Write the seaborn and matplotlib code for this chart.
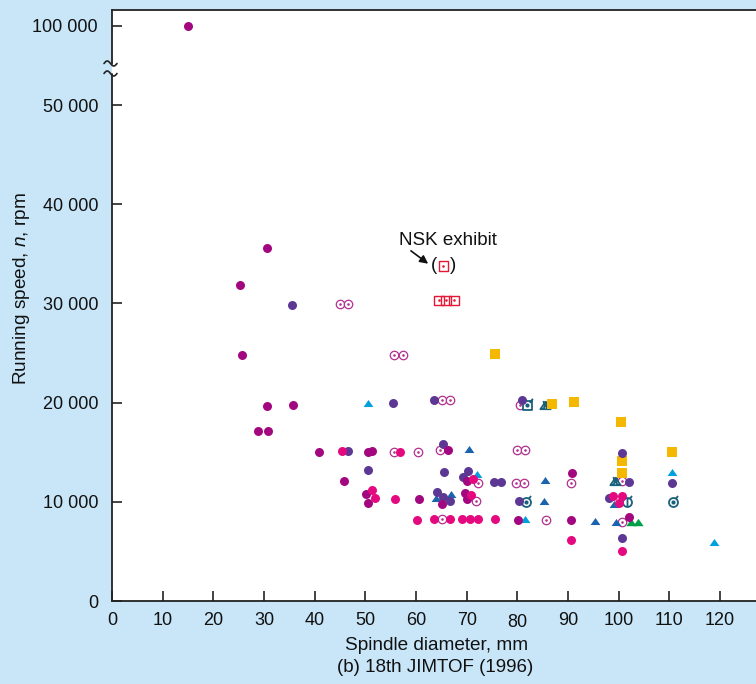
import numpy as np
import matplotlib
matplotlib.use("Agg")
import matplotlib.pyplot as plt
from matplotlib.path import Path
import seaborn as sns

# ---- data: spindle diameter (mm) vs running speed (rpm) ----
dm_x = [15.0, 30.6, 25.3, 25.6, 30.6, 35.7, 28.9, 30.7, 40.9, 50.6, 51.4, 45.8,
        50.1, 50.5, 60.6, 66.4, 65.2, 69.7, 70.1, 70.1, 90.8, 80.2, 90.6, 102.0]
dm_y = [100000, 35600, 31900, 24800, 19700, 19800, 17100, 17100, 15000, 15000, 15100, 12100,
        10800, 9900, 10300, 15200, 9800, 10900, 10300, 12100, 12900, 8200, 8200, 8500]

pu_x = [35.5, 46.5, 50.6, 55.4, 63.5, 65.4, 81.0, 100.6, 65.5, 70.3, 69.2, 75.4, 76.8,
        102.1, 110.6, 64.2, 65.3, 66.7, 80.3, 98.1, 100.6]
pu_y = [29800, 15100, 13200, 20000, 20300, 15800, 20300, 14900, 13000, 13100, 12500, 12000, 12000,
        12000, 11900, 11000, 10500, 10100, 10100, 10400, 6400]

pk_x = [45.3, 56.8, 51.4, 51.9, 55.9, 60.2, 71.2, 70.9, 98.9, 100.6, 100.1, 63.5, 66.7,
        69.0, 70.7, 72.2, 75.6, 90.6, 100.6]
pk_y = [15100, 15000, 11200, 10400, 10300, 8200, 12300, 10700, 10600, 10600, 9900, 8300, 8300,
        8300, 8300, 8300, 8300, 6100, 5000]

od_x = [45.0, 46.6, 55.7, 57.4, 65.1, 66.8, 80.5, 55.7, 60.3, 64.8, 79.9, 81.5, 72.2,
        79.8, 81.4, 90.6, 100.6, 71.9, 65.2, 85.7, 100.6]
od_y = [29900, 29900, 24800, 24800, 20300, 20300, 19800, 15000, 15000, 15200, 15200, 15200, 11900,
        11900, 11900, 11900, 12100, 10100, 8300, 8200, 8000]

ye_x = [75.6, 86.8, 91.2, 100.5, 110.5, 100.6, 100.6]
ye_y = [24900, 19900, 20100, 18000, 15000, 14100, 12900]

cy_x = [50.6, 72.1, 110.6, 81.6, 118.9]
cy_y = [20000, 12800, 13000, 8300, 5900]

db_x = [70.5, 85.5, 63.9, 66.9, 85.3, 99.1, 95.3, 99.4]
db_y = [15300, 12200, 10400, 10800, 10100, 9800, 8100, 8000]

gr_x = [102.4, 103.8]
gr_y = [8000, 8000]

tq_x, tq_y = [82.0], [19800]                    # square with dot
tt_x, tt_y = [85.5, 99.3], [19800, 12100]       # crossed triangle
tc_x, tc_y = [81.7, 110.8], [10000, 10000]      # circle with dot
tb_x, tb_y = [101.7], [10000]                   # circle with bar

nsk_x = [64.5, 65.9, 67.5]
nsk_y = [30300, 30300, 30300]

x_ticks = [0, 10, 20, 30, 40, 50, 60, 70, 80, 90, 100, 110, 120]
y_ticks = [0, 10000, 20000, 30000, 40000, 50000, 100000]
y_labels = ["0", "10 000", "20 000", "30 000", "40 000", "50 000", "100 000"]

# ---- colours ----
BG = "#c8e6f8"
C_DM = "#a3077f"
C_PU = "#5c3793"
C_PK = "#e5097f"
C_OD = "#b2308f"
C_YE = "#f5b800"
C_CY = "#00a0df"
C_DB = "#1c63ae"
C_GR = "#00a04a"
C_TL = "#19607c"
C_RD = "#e21836"
INK = "#111111"

sns.set_theme(style="ticks")
plt.rcParams["font.family"] = ["Liberation Sans", "DejaVu Sans"]
plt.rcParams["mathtext.fontset"] = "custom"
plt.rcParams["mathtext.it"] = "Liberation Sans:italic"
plt.rcParams["mathtext.rm"] = "Liberation Sans"

fig = plt.figure(figsize=(7.56, 6.84), dpi=100, facecolor=BG)
ax = fig.add_axes([112 / 756, 1 - 601 / 684, 1 - 112 / 756, (601 - 10) / 684])
ax.set_facecolor("white")

# broken y axis: values above 50 000 are compressed
K = 0.1593


def fwd(y):
    y = np.asarray(y, dtype=float)
    return np.where(y <= 50000, y, 50000 + (y - 50000) * K)


def inv(t):
    t = np.asarray(t, dtype=float)
    return np.where(t <= 50000, t, 50000 + (t - 50000) / K)


ax.set_yscale("function", functions=(fwd, inv))
ax.set_xlim(0, 644 / 5.067)
ax.set_ylim(0, float(inv(59577)))

# ---- marker shapes ----
tri = Path([(-1, -0.72), (1, -0.72), (0, 0.72), (-1, -0.72)],
           [Path.MOVETO, Path.LINETO, Path.LINETO, Path.CLOSEPOLY])

circ = Path.unit_circle()
slash_c = Path([(0.55, 0.85), (1.0, 1.45)], [Path.MOVETO, Path.LINETO])
m_tc = Path.make_compound_path(circ, slash_c)
m_tb = Path.make_compound_path(circ, slash_c,
                               Path([(0, -1), (0, 1)], [Path.MOVETO, Path.LINETO]))
sq = Path([(-1, -1), (1, -1), (1, 1), (-1, 1), (-1, -1)],
          [Path.MOVETO, Path.LINETO, Path.LINETO, Path.LINETO, Path.CLOSEPOLY])
m_tq = Path.make_compound_path(sq, Path([(0.5, 0.6), (1.2, 1.5)], [Path.MOVETO, Path.LINETO]))
m_tt = Path.make_compound_path(
    tri,
    Path([(-0.45, 0.85), (0.45, -0.72)], [Path.MOVETO, Path.LINETO]),
    Path([(-0.45, -0.72), (0.45, 0.85)], [Path.MOVETO, Path.LINETO]),
)

# open dotted circles
sns.scatterplot(x=od_x, y=od_y, marker="o", s=37, color=C_OD, facecolor="white",
                edgecolor=C_OD, linewidth=0.9, ax=ax, zorder=3)
sns.scatterplot(x=od_x, y=od_y, marker="o", s=3.5, color=C_OD, linewidth=0, ax=ax, zorder=3.1)

# NSK exhibit squares
sns.scatterplot(x=nsk_x, y=nsk_y, marker="s", s=48, color=C_RD, facecolor="none",
                edgecolor=C_RD, linewidth=1.0, ax=ax, zorder=3)
sns.scatterplot(x=nsk_x, y=nsk_y, marker="o", s=3.5, color=C_RD, linewidth=0, ax=ax, zorder=3.1)

# teal symbols
for xs, ys, mk, sz in [(tc_x, tc_y, m_tc, 88), (tb_x, tb_y, m_tb, 88),
                       (tq_x, tq_y, m_tq, 94), (tt_x, tt_y, m_tt, 55)]:
    sns.scatterplot(x=xs, y=ys, marker=mk, s=sz, color=C_TL, facecolor="white",
                    edgecolor=C_TL, linewidth=1.3, ax=ax, zorder=3.2)
sns.scatterplot(x=tc_x + tq_x, y=tc_y + tq_y, marker="o", s=9, color=C_TL,
                linewidth=0, ax=ax, zorder=3.3)

# filled squares and triangles
sns.scatterplot(x=ye_x, y=ye_y, marker="s", s=52, color=C_YE, linewidth=0, ax=ax, zorder=4)
sns.scatterplot(x=cy_x, y=cy_y, marker=tri, s=50, color=C_CY, linewidth=0, ax=ax, zorder=4)
sns.scatterplot(x=db_x, y=db_y, marker=tri, s=50, color=C_DB, linewidth=0, ax=ax, zorder=4)
sns.scatterplot(x=gr_x, y=gr_y, marker=tri, s=55, color=C_GR, linewidth=0, ax=ax, zorder=4)

# filled circles
sns.scatterplot(x=pu_x, y=pu_y, marker="o", s=42, color=C_PU, linewidth=0, ax=ax, zorder=5)
sns.scatterplot(x=dm_x, y=dm_y, marker="o", s=42, color=C_DM, linewidth=0, ax=ax, zorder=5.1)
sns.scatterplot(x=pk_x, y=pk_y, marker="o", s=42, color=C_PK, linewidth=0, ax=ax, zorder=5.2)

# ---- annotation ----
ax.text(66.3, 36300, "NSK exhibit", ha="center", va="center", fontsize=13.5, color=INK)
ax.text(63.5, 33800, "(", ha="center", va="center", fontsize=13.5, color=INK)
ax.text(67.3, 33800, ")", ha="center", va="center", fontsize=13.5, color=INK)
ax.scatter([65.4], [33800], marker="s", s=48, facecolor="none", edgecolor=C_RD, linewidth=1.0, zorder=6)
ax.scatter([65.4], [33800], marker="o", s=3.5, color=C_RD, linewidth=0, zorder=6)
ax.annotate("", xy=(62.4, 34000), xytext=(59.0, 35300),
            arrowprops=dict(arrowstyle="-|>", color=INK, lw=1.2, mutation_scale=12,
                            shrinkA=0, shrinkB=0))

# ---- axes styling ----
ax.set_xticks(x_ticks)
ax.set_xticklabels([str(v) for v in x_ticks])
ax.set_yticks(y_ticks)
ax.set_yticklabels(y_labels)
ax.minorticks_off()
ax.tick_params(axis="both", direction="in", length=7, width=1.2, color="#222222",
               labelsize=13, labelcolor=INK)
ax.tick_params(axis="y", pad=10)
ax.tick_params(axis="x", pad=8)
ax.set_xlabel("")
ax.set_ylabel("")

for side in ["left", "right"]:
    ax.spines[side].set_visible(False)
for side in ["top", "bottom"]:
    ax.spines[side].set_linewidth(1.3)
    ax.spines[side].set_color("#222222")

# left spine with a break between 50 000 and 100 000
yb_lo = (601 - 73.5) / 591
yb_hi = (601 - 63.5) / 591
ax.plot([0, 0], [0, yb_lo], transform=ax.transAxes, clip_on=False, color="#222222", lw=1.3)
ax.plot([0, 0], [yb_hi, 1], transform=ax.transAxes, clip_on=False, color="#222222", lw=1.3)
tt = np.linspace(0, 1, 40)
wx = (-8 + 13 * tt) / 644
for yc in (yb_lo, yb_hi):
    ax.plot(wx, yc + 2.5 / 591 * np.sin(2 * np.pi * tt), transform=ax.transAxes,
            clip_on=False, color="#222222", lw=1.2)

# slightly lowered "80" label
ax.xaxis.get_major_ticks()[8].set_pad(9.5)

fig.text(22 / 756, 1 - 288 / 684, "Running speed, $n$, rpm", rotation=90,
         ha="center", va="center", fontsize=13.7, color=INK)
fig.text(437 / 756, 1 - 645 / 684, "Spindle diameter, mm", ha="center", va="center",
         fontsize=13.7, color=INK)
fig.text(435 / 756, 1 - 668 / 684, "(b) 18th JIMTOF (1996)", ha="center", va="center",
         fontsize=13.5, color=INK)

fig.savefig("out.png", dpi=100, facecolor=BG)
